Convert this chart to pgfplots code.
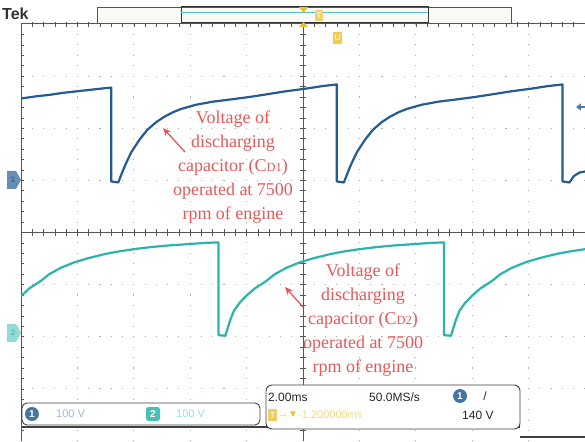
\documentclass[border=0pt]{standalone}
\usepackage{fontspec}
\setmainfont{Liberation Serif}
\newfontfamily\tekfont{Liberation Sans}
\usepackage{pgfplots}
\pgfplotsset{compat=1.18}
\usetikzlibrary{arrows.meta}
\definecolor{chone}{RGB}{36,92,146}
\definecolor{chtwo}{RGB}{42,180,172}
\definecolor{annred}{RGB}{228,90,90}
\definecolor{frame}{RGB}{85,85,85}
\definecolor{griddot}{RGB}{175,175,175}
\definecolor{tyellow}{RGB}{236,190,50}
\begin{document}
\begin{tikzpicture}[x=1pt,y=1pt]
\useasboundingbox (0,0) rectangle (585,441);
\fill[white] (0,0) rectangle (585,441);
% graticule
\begin{scope}[shift={(303,208.5)}, x=28.2pt, y=52.125pt]
  \foreach \gx in {-8,-6,-4,-2,2,4,6,8}
    \draw[griddot, line width=1.1pt, dash pattern=on 1.1pt off 9.325pt, dash phase=0.55pt] (\gx,-4) -- (\gx,4);
  \foreach \gy in {-3,-2,-1,1,2,3}
    \draw[griddot, line width=1.1pt, dash pattern=on 1.1pt off 10.18pt, dash phase=0.55pt] (-10,\gy) -- (10,\gy);
  \draw[frame, line width=0.9pt] (-10,0) -- (10,0);
  \draw[frame, line width=0.9pt] (0,-4) -- (0,4);
  \draw[frame, line width=1pt] (-10,4) -- (10,4);
  \draw[frame, line width=1pt] (-10,-4) -- (-10,4);
  \foreach \k in {1,...,49} {
    \draw[frame, line width=0.6pt] (-10+\k*0.4,-0.06) -- (-10+\k*0.4,0.06);
    \draw[frame, line width=0.6pt] (-10+\k*0.4,3.94) -- (-10+\k*0.4,4.04);
  }
  \foreach \k in {1,...,39} {
    \draw[frame, line width=0.6pt] (-0.1,-4+\k*0.2) -- (0.1,-4+\k*0.2);
    \draw[frame, line width=0.6pt] (-10,-4+\k*0.2) -- (-9.88,-4+\k*0.2);
  }
\end{scope}
\begin{axis}[at={(21pt,0pt)}, anchor=south west, scale only axis,
  width=564pt, height=417pt, xmin=-10, xmax=10, ymin=-4, ymax=4, hide axis]
\addplot[chone, line width=2.2pt, line join=round] coordinates {
(-10,2.57) (-9.5,2.61) (-9,2.64) (-8.5,2.68) (-8,2.71) (-7.5,2.74) (-7,2.77) (-6.8,2.78)
(-6.8,0.98) (-6.55,0.96) (-6.45,1.1) (-6.3,1.3) (-6.09,1.54) (-5.8,1.78) (-5.52,1.97)
(-5.2,2.12) (-4.92,2.22) (-4.6,2.31) (-4.32,2.37) (-3.8,2.45) (-3.2,2.51) (-2.6,2.55)
(-1.9,2.6) (-1.3,2.65) (-0.6,2.71) (0.1,2.76) (0.7,2.81) (1.2,2.84)
(1.2,0.98) (1.45,0.96) (1.55,1.1) (1.7,1.3) (1.91,1.54) (2.2,1.78) (2.48,1.97) (2.8,2.12)
(3.08,2.22) (3.4,2.31) (3.68,2.37) (4.2,2.45) (4.8,2.51) (5.4,2.55) (6.1,2.6) (6.7,2.65)
(7.4,2.71) (8.1,2.76) (8.7,2.81) (9.2,2.84)
(9.2,0.98) (9.45,0.96) (9.6,1.08) (9.8,1.15) (10,1.17)
};
\addplot[chtwo, line width=2.2pt, line join=round] coordinates {
(-10,-1.22) (-9.7,-1.07) (-9.3,-0.93) (-9,-0.8) (-8.6,-0.68) (-8.1,-0.57) (-7.6,-0.49)
(-7,-0.41) (-6.5,-0.36) (-6,-0.32) (-5.4,-0.28) (-4.8,-0.25) (-4,-0.22) (-3.5,-0.2) (-3.0,-0.19)
(-3.0,-1.97) (-2.75,-1.98) (-2.68,-1.85) (-2.58,-1.68) (-2.45,-1.5) (-2.25,-1.35) (-2.0,-1.21)
(-1.7,-1.07) (-1.3,-0.93) (-1.0,-0.8) (-0.6,-0.68) (-0.1,-0.57) (0.4,-0.49) (1.0,-0.41)
(1.5,-0.36) (2.0,-0.32) (2.6,-0.28) (3.2,-0.25) (4.0,-0.22) (4.5,-0.2) (5.0,-0.19)
(5.0,-1.97) (5.25,-1.98) (5.32,-1.85) (5.42,-1.68) (5.55,-1.5) (5.75,-1.35) (6.0,-1.21)
(6.3,-1.07) (6.7,-0.93) (7.0,-0.8) (7.4,-0.68) (7.9,-0.57) (8.4,-0.49) (9.0,-0.41)
(9.5,-0.36) (10,-0.32)
};
\end{axis}
% top record bar
\draw[frame, line width=0.8pt, fill={rgb,255:red,250;green,250;blue,244}] (97,418) rectangle (511,434);
\draw[black!80, line width=1pt] (181,418) rectangle (428,434);
\draw[chtwo!80, line width=1pt] (181,428) -- (428,428);
\node[anchor=base west, inner sep=0, font=\tekfont\bfseries\fontsize{16}{16}\selectfont, text=black!80] at (2,421) {Tek};
% trigger markers
\fill[tyellow] (299,434) -- (308,434) -- (303.5,428) -- cycle;
\fill[tyellow] (299,414) -- (308,414) -- (303.5,419) -- cycle;
\fill[tyellow!70] (315,420) rectangle (323,431);
\node[font=\tekfont\fontsize{8}{8}\selectfont, text=white, inner sep=0] at (319,425.5) {T};
\fill[tyellow!80] (333,397) rectangle (342,409);
\node[font=\tekfont\fontsize{8}{8}\selectfont, text=white, inner sep=0] at (337.5,403) {U};
% channel markers
\fill[chone!70] (7,252) -- (16,252) -- (21,261) -- (16,270) -- (7,270) -- cycle;
\node[font=\tekfont\fontsize{8}{8}\selectfont, text=chone, inner sep=0] at (13,261) {1};
\fill[chtwo!50] (7,99) -- (16,99) -- (21,108) -- (16,117) -- (7,117) -- cycle;
\node[font=\tekfont\fontsize{8}{8}\selectfont, text=chtwo, inner sep=0] at (13,108) {2};
% trigger level arrow
\draw[chone!80, line width=2pt, -{Triangle[length=5pt,width=7pt]}] (586,334) -- (576,334);
% annotations
\node[align=center, text=annred, font=\fontsize{18}{24}\selectfont, inner sep=0] at (233,274)
  {Voltage of\\discharging\\capacitor (C{\fontsize{12.5}{12}\selectfont D1})\\operated at 7500\\rpm of engine};
\draw[annred, line width=1.3pt, -{Stealth[length=8pt,width=7pt]}] (185,289) -- (163,313);
\node[align=center, text=annred, font=\fontsize{18}{24}\selectfont, inner sep=0] at (363,121)
  {Voltage of\\discharging\\capacitor (C{\fontsize{12.5}{12}\selectfont D2})\\operated at 7500\\rpm of engine};
\draw[annred, line width=1.3pt, -{Stealth[length=8pt,width=7pt]}] (303,134) -- (285,154);
% bottom status boxes
\draw[black!75, line width=1.6pt] (22,14) -- (520,14);
\draw[black!75, line width=1.6pt] (520,4) -- (585,4);
\draw[black!75, line width=0.9pt, rounded corners=5pt, fill=white] (22,16) rectangle (260,38);
\fill[chone!85!white] (32,27) circle (7);
\node[font=\tekfont\bfseries\fontsize{10}{10}\selectfont, text=white, inner sep=0] at (32,27) {1};
\node[anchor=west, font=\tekfont\fontsize{11}{11}\selectfont, text=chone!45, inner sep=0] at (56,27) {100 V};
\fill[chtwo!85, rounded corners=2.5pt] (146,20) rectangle (160,34);
\node[font=\tekfont\bfseries\fontsize{10}{10}\selectfont, text=white, inner sep=0] at (153,27) {2};
\node[anchor=west, font=\tekfont\fontsize{11}{11}\selectfont, text=chtwo!45, inner sep=0] at (176,27) {100 V};
\draw[black!75, line width=0.9pt, rounded corners=6pt, fill=white] (266,12) rectangle (520,56);
\node[anchor=west, font=\tekfont\fontsize{12}{12}\selectfont, text=black!85, inner sep=0] at (268,44) {2.00ms};
\node[anchor=west, font=\tekfont\fontsize{12}{12}\selectfont, text=black!85, inner sep=0] at (369,44) {50.0MS/s};
\fill[chone!85!white] (460,45) circle (7);
\node[font=\tekfont\bfseries\fontsize{10}{10}\selectfont, text=white, inner sep=0] at (460,45) {1};
\node[font=\tekfont\fontsize{12}{12}\selectfont, text=black!85, inner sep=0] at (485,45) {/};
\fill[tyellow!75] (268,20) rectangle (277,32);
\node[font=\tekfont\fontsize{7}{7}\selectfont, text=white, inner sep=0] at (272.5,26) {T};
\node[anchor=west, font=\tekfont\fontsize{10}{10}\selectfont, text=tyellow, inner sep=0] at (278,26) {→▼};
\node[anchor=west, font=\tekfont\fontsize{11}{11}\selectfont, text=tyellow!60, inner sep=0] at (298,26) {-1.200000ms};
\node[anchor=west, font=\tekfont\fontsize{12}{12}\selectfont, text=black!85, inner sep=0] at (462,26) {140 V};
\end{tikzpicture}
\end{document}
